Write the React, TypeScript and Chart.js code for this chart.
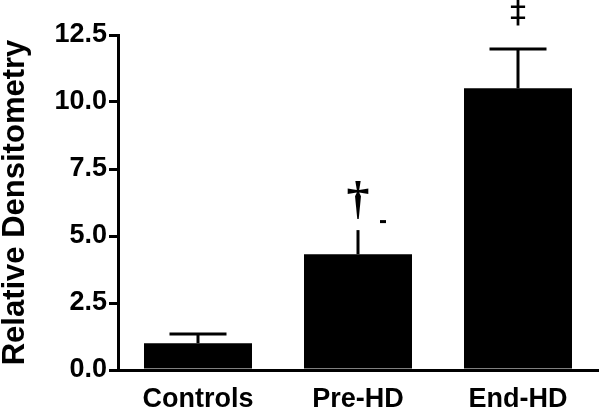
import React, { useEffect, useRef } from "react";
import { Chart, registerables } from "chart.js";

Chart.register(...registerables);

const categories = ["Controls", "Pre-HD", "End-HD"];
const means = [1.0, 4.32, 10.51];
const errors = [0.34, 0.9, 1.47];
const errorCaps = [true, false, true];
const markSymbols = ["", "\u2020", "\u2021"];
const yTickValues = [0, 2.5, 5, 7.5, 10, 12.5];

const FONT = "'Liberation Sans', Arial, Helvetica, sans-serif";

const errorBarPlugin = {
  id: "errorBars",
  afterDatasetsDraw(chart: any) {
    const ctx = chart.ctx;
    const xs = chart.scales.x;
    const ys = chart.scales.y;
    ctx.save();
    ctx.strokeStyle = "#000";
    ctx.fillStyle = "#000";
    ctx.lineWidth = 3;
    for (let i = 0; i < means.length; i++) {
      const x = xs.getPixelForValue(i);
      const yBar = ys.getPixelForValue(means[i]);
      const yTop = ys.getPixelForValue(means[i] + errors[i]);
      ctx.beginPath();
      ctx.moveTo(x, yBar);
      ctx.lineTo(x, yTop);
      ctx.stroke();
      if (errorCaps[i]) {
        ctx.beginPath();
        ctx.moveTo(x - 28.5, yTop);
        ctx.lineTo(x + 28.5, yTop);
        ctx.stroke();
      }
      const sym = markSymbols[i];
      ctx.textAlign = "center";
      ctx.textBaseline = "alphabetic";
      if (sym === "\u2020") {
        ctx.font = `bold 46px 'Liberation Serif', 'DejaVu Serif', serif`;
        ctx.fillText(sym, x, yTop - 17);
        ctx.fillRect(x + 22, yTop - 10, 6, 3);
      } else if (sym === "\u2021") {
        ctx.font = `32px 'DejaVu Sans', sans-serif`;
        ctx.fillText(sym, x, yTop - 27);
      }
    }
    ctx.restore();
  },
};

export default function App() {
  const ref = useRef<HTMLCanvasElement>(null);
  useEffect(() => {
    if (!ref.current) return;
    const chart = new Chart(ref.current, {
      type: "bar",
      data: {
        labels: categories,
        datasets: [
          {
            data: means,
            backgroundColor: "#000",
            borderWidth: 0,
            barPercentage: 0.675,
            categoryPercentage: 1,
          },
        ],
      },
      options: {
        responsive: false,
        animation: false,
        layout: { padding: { top: 35, right: 2, left: 0, bottom: 0 } },
        plugins: { legend: { display: false }, tooltip: { enabled: false } },
        scales: {
          x: {
            offset: true,
            grid: { display: false, drawTicks: false },
            border: { display: true, color: "#000", width: 3 },
            ticks: {
              color: "#000",
              padding: 13,
              font: { family: FONT, weight: "bold", size: 27 },
            },
            afterFit(scale: any) {
              scale.height = 37;
            },
          },
          y: {
            min: 0,
            max: 12.5,
            afterBuildTicks(scale: any) {
              scale.ticks = yTickValues.map((v) => ({ value: v }));
            },
            grid: {
              drawOnChartArea: false,
              drawTicks: true,
              tickLength: 9,
              tickColor: "#000",
              lineWidth: 3,
            },
            border: { display: true, color: "#000", width: 3 },
            ticks: {
              color: "#000",
              padding: 2,
              font: { family: FONT, weight: "bold", size: 27 },
              callback: (v: any) => Number(v).toFixed(1),
            },
            title: {
              display: true,
              text: "Relative Densitometry",
              color: "#000",
              padding: 0,
              font: { family: FONT, weight: "bold", size: 31, lineHeight: 1 },
            },
            afterFit(scale: any) {
              scale.width = 118;
            },
          },
        },
      },
      plugins: [errorBarPlugin],
    });
    return () => chart.destroy();
  }, []);
  return (
    <div style={{ position: "absolute", left: 0, top: 0, width: 600, height: 407, background: "#fff" }}>
      <canvas ref={ref} width={600} height={407} />
    </div>
  );
}
